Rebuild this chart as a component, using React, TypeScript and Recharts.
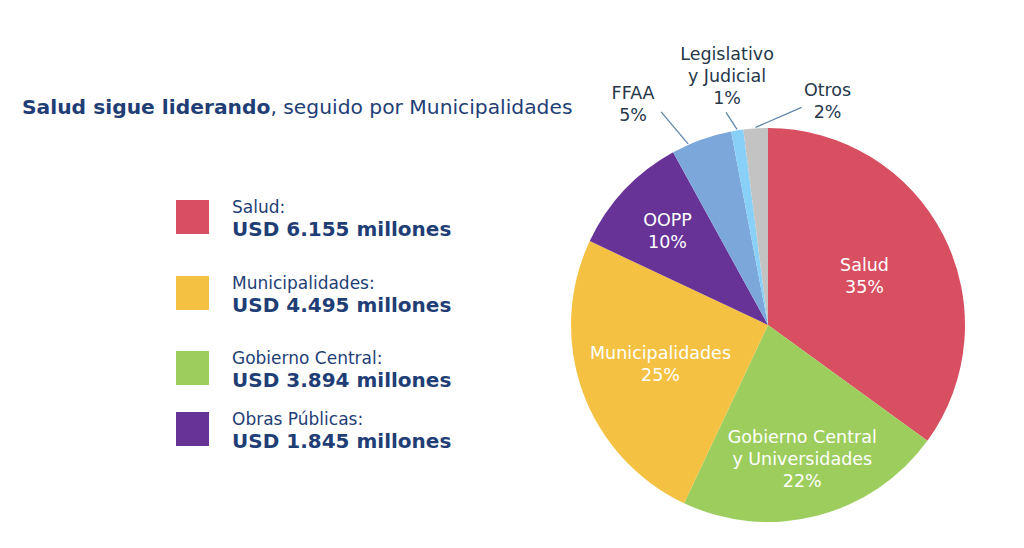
import { PieChart, Pie, Cell } from 'recharts'

// pie slices, clockwise from 12 o'clock
const sliceNames = [
  'Salud',
  'Gobierno Central y Universidades',
  'Municipalidades',
  'OOPP',
  'FFAA',
  'Legislativo y Judicial',
  'Otros',
]
const sliceLabelLines = [
  ['Salud'],
  ['Gobierno Central', 'y Universidades'],
  ['Municipalidades'],
  ['OOPP'],
  ['FFAA'],
  ['Legislativo', 'y Judicial'],
  ['Otros'],
]
const sliceShares = [35, 22, 25, 10, 5, 1, 2]

// legend on the left
const legendNames = ['Salud', 'Municipalidades', 'Gobierno Central', 'Obras Públicas']
const legendAmounts = ['6.155', '4.495', '3.894', '1.845']

const sliceColors: Record<string, string> = {
  Salud: '#d94f62',
  'Gobierno Central y Universidades': '#9dce5d',
  Municipalidades: '#f4c142',
  OOPP: '#673397',
  FFAA: '#7ca7da',
  'Legislativo y Judicial': '#88d0f7',
  Otros: '#c3c3c3',
}
const legendColors: Record<string, string> = {
  Salud: sliceColors.Salud,
  Municipalidades: sliceColors.Municipalidades,
  'Gobierno Central': sliceColors['Gobierno Central y Universidades'],
  'Obras Públicas': sliceColors.OOPP,
}

const NAVY = '#1f3e76'
const FONT = '"DejaVu Sans", Verdana, sans-serif'
const RAD = Math.PI / 180
const LINE_H = 22

// where each label goes: inside at a fraction of the radius, or outside with a leader line
type Placement =
  | { kind: 'in'; r: number }
  | { kind: 'out'; shift: number; end: [number, number]; textDx: number; textDy: number }

const placements: Record<string, Placement> = {
  Salud: { kind: 'in', r: 0.55 },
  'Gobierno Central y Universidades': { kind: 'in', r: 0.7 },
  Municipalidades: { kind: 'in', r: 0.58 },
  OOPP: { kind: 'in', r: 0.7 },
  FFAA: { kind: 'out', shift: 4, end: [-27, -32], textDx: -28, textDy: -13 },
  'Legislativo y Judicial': { kind: 'out', shift: 0, end: [-11, -17], textDx: 1, textDy: -52 },
  Otros: { kind: 'out', shift: 0, end: [46, -20], textDx: 26, textDy: -11 },
}

const data = sliceNames.map((name, i) => ({ name, value: sliceShares[i], lines: sliceLabelLines[i] }))

function renderLabel(props: any) {
  const { cx, cy, midAngle, outerRadius, index } = props
  const d = data[index]
  const p = placements[d.name]
  const all = [...d.lines, `${d.value}%`]

  if (p.kind === 'in') {
    const r = outerRadius * p.r
    const x = cx + r * Math.cos(-midAngle * RAD)
    const y = cy + r * Math.sin(-midAngle * RAD)
    return (
      <text key={d.name} x={x} y={y} textAnchor="middle" fill="#ffffff" fontSize={17.5} fontFamily={FONT}>
        {all.map((t, i) => (
          <tspan key={i} x={x} y={y + (i - (all.length - 1) / 2) * LINE_H + 6}>
            {t}
          </tspan>
        ))}
      </text>
    )
  }

  const a = midAngle + p.shift
  const sx = cx + (outerRadius + 1) * Math.cos(-a * RAD)
  const sy = cy + (outerRadius + 1) * Math.sin(-a * RAD)
  const ex = sx + p.end[0]
  const ey = sy + p.end[1]
  const tx = ex + p.textDx
  const ty = ey + p.textDy
  return (
    <g key={d.name}>
      <line x1={sx} y1={sy} x2={ex} y2={ey} stroke="#5f86aa" strokeWidth={1.3} />
      <text x={tx} y={ty} textAnchor="middle" fill="#26384a" fontSize={17.5} fontFamily={FONT}>
        {all.map((t, i) => (
          <tspan key={i} x={tx} y={ty + i * LINE_H}>
            {t}
          </tspan>
        ))}
      </text>
    </g>
  )
}

const legendTops = [200, 276, 351, 412]

export default function App() {
  return (
    <div style={{ position: 'relative', width: 1024, height: 548, background: '#ffffff', fontFamily: FONT, overflow: 'hidden' }}>
      <style>{'body{margin:0}'}</style>

      <div
        style={{
          position: 'absolute',
          left: 22,
          top: 95,
          fontSize: 20.25,
          color: NAVY,
          whiteSpace: 'nowrap',
          lineHeight: '24px',
        }}
      >
        <b>Salud sigue liderando</b>, seguido por Municipalidades
      </div>

      {legendNames.map((name, i) => (
        <div key={name} style={{ position: 'absolute', left: 176, top: legendTops[i] }}>
          <div style={{ position: 'absolute', left: 0, top: 0, width: 33, height: 34, background: legendColors[name] }} />
          <div
            style={{
              position: 'absolute',
              left: 56,
              top: -3,
              fontSize: 17,
              lineHeight: '20px',
              color: NAVY,
              whiteSpace: 'nowrap',
            }}
          >
            {name}:
          </div>
          <div
            style={{
              position: 'absolute',
              left: 56,
              top: 17,
              fontSize: 20,
              lineHeight: '24px',
              fontWeight: 'bold',
              color: NAVY,
              whiteSpace: 'nowrap',
            }}
          >
            USD {legendAmounts[i]} millones
          </div>
        </div>
      ))}

      <div style={{ position: 'absolute', left: 0, top: 0 }}>
        <PieChart width={1024} height={548} margin={{ top: 0, right: 0, bottom: 0, left: 0 }}>
          <Pie
            data={data}
            dataKey="value"
            nameKey="name"
            cx={768}
            cy={325}
            outerRadius={197}
            startAngle={90}
            endAngle={-270}
            stroke="none"
            label={renderLabel}
            labelLine={false}
            isAnimationActive={false}
          >
            {data.map((d) => (
              <Cell key={d.name} fill={sliceColors[d.name]} />
            ))}
          </Pie>
        </PieChart>
      </div>
    </div>
  )
}
